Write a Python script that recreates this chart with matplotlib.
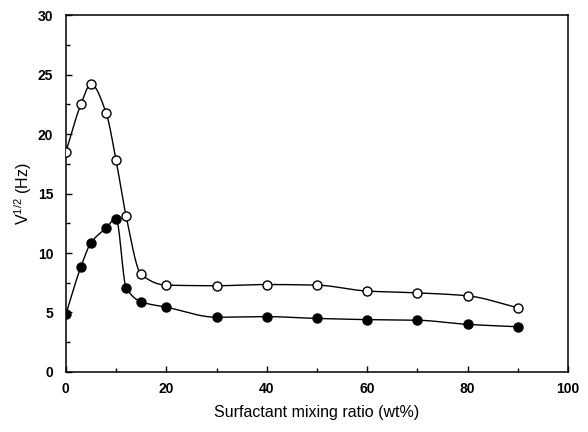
import numpy as np
import matplotlib
matplotlib.use("Agg")
import matplotlib.pyplot as plt
from matplotlib.ticker import MultipleLocator

plt.rcParams['font.family'] = ['Liberation Sans', 'DejaVu Sans']
plt.rcParams['mathtext.fontset'] = 'custom'
plt.rcParams['mathtext.rm'] = 'Liberation Sans'
plt.rcParams['mathtext.it'] = 'Liberation Sans'

ratio = [0, 3, 5, 8, 10, 12, 15, 20, 30, 40, 50, 60, 70, 80, 90]
open_vals = [18.5, 22.5, 24.2, 21.8, 17.8, 13.1, 8.2, 7.3, 7.25, 7.35, 7.3, 6.8, 6.65, 6.4, 5.4]
filled_x = [0, 3, 5, 8, 10, 12, 15, 20, 30, 40, 50, 60, 70, 80, 90]
filled_vals = [4.85, 8.85, 10.85, 12.1, 12.9, 7.1, 5.9, 5.45, 4.6, 4.65, 4.5, 4.4, 4.35, 4.0, 3.8]


def pchip(x, y, n=40):
    x = np.asarray(x, float)
    y = np.asarray(y, float)
    h = np.diff(x)
    d = np.diff(y) / h
    m = np.zeros_like(y)
    for k in range(1, len(x) - 1):
        if d[k - 1] * d[k] > 0:
            w1 = 2 * h[k] + h[k - 1]
            w2 = h[k] + 2 * h[k - 1]
            m[k] = (w1 + w2) / (w1 / d[k - 1] + w2 / d[k])
    m[0] = d[0]
    m[-1] = d[-1]
    xs, ys = [], []
    for k in range(len(x) - 1):
        t = np.linspace(0, 1, n)
        h00 = 2 * t**3 - 3 * t**2 + 1
        h10 = t**3 - 2 * t**2 + t
        h01 = -2 * t**3 + 3 * t**2
        h11 = t**3 - t**2
        xs.append(x[k] + t * h[k])
        ys.append(h00 * y[k] + h10 * h[k] * m[k] + h01 * y[k + 1] + h11 * h[k] * m[k + 1])
    return np.concatenate(xs), np.concatenate(ys)


fig = plt.figure(figsize=(5.88, 4.32), dpi=100)
ax = fig.add_axes([0.112, 0.139, 0.854, 0.826])

sx, sy = pchip(ratio, open_vals)
ax.plot(sx, sy, color='black', lw=1.0, zorder=2)
ax.plot(ratio, open_vals, 'o', ms=6.5, mfc='white', mec='black', mew=1.0, zorder=3)

fx, fy = pchip(filled_x, filled_vals)
ax.plot(fx, fy, color='black', lw=1.0, zorder=2)
ax.plot(filled_x, filled_vals, 'o', ms=6.5, mfc='black', mec='black', mew=1.0, zorder=3)

ax.set_xlim(0, 100)
ax.set_ylim(0, 30)
ax.xaxis.set_major_locator(MultipleLocator(20))
ax.xaxis.set_minor_locator(MultipleLocator(10))
ax.yaxis.set_major_locator(MultipleLocator(5))
ax.yaxis.set_minor_locator(MultipleLocator(2.5))
ax.tick_params(which='both', direction='in', top=False, right=False, width=1.0)
ax.tick_params(which='major', length=4, labelsize=10, pad=7)
ax.tick_params(which='minor', length=3)
ax.tick_params(axis='y', which='major', pad=9)
for lab in ax.get_xticklabels() + ax.get_yticklabels():
    lab.set_fontweight('bold')
for s in ax.spines.values():
    s.set_linewidth(1.1)

ax.set_xlabel('Surfactant mixing ratio (wt%)', fontsize=11.5, labelpad=7)
ax.set_ylabel(r'V$^{\mathrm{1/2}}$ (Hz)', fontsize=11.5, labelpad=3)

fig.savefig('out.png', dpi=100)
